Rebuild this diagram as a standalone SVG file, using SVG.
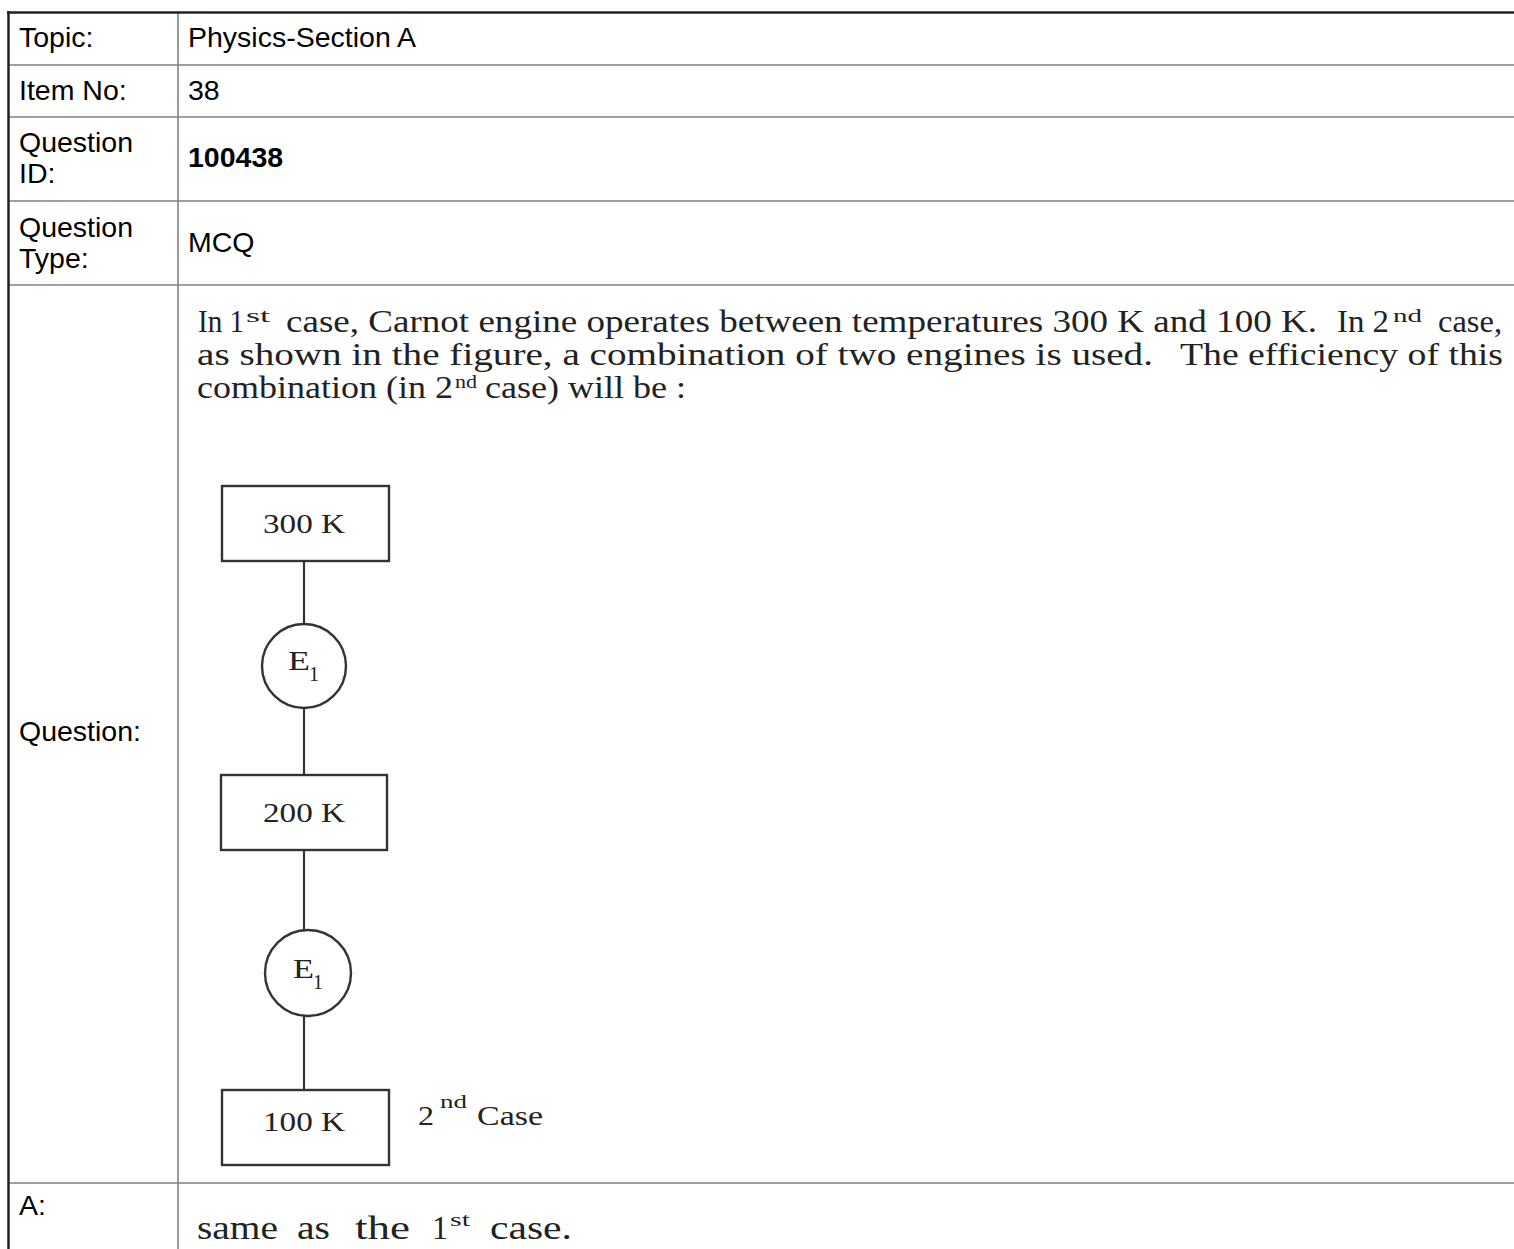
<svg xmlns="http://www.w3.org/2000/svg" width="1514" height="1249" viewBox="0 0 1514 1249">
<style>
.lbl{font-family:"Liberation Sans",Arial,sans-serif;font-size:28.5px;fill:#000}
.b{font-weight:bold}
.sr{font-family:"Liberation Serif","Times New Roman",serif;font-size:31px;fill:#222}
.ans{font-family:"Liberation Serif","Times New Roman",serif;font-size:34px;fill:#222}
.sup{font-family:"Liberation Serif","Times New Roman",serif;font-size:19px;fill:#222}
.dg{font-family:"Liberation Serif","Times New Roman",serif;font-size:28px;fill:#222}
.sub{font-family:"Liberation Serif","Times New Roman",serif;font-size:22px;fill:#222}
.outer{stroke:#222;stroke-width:2.5;fill:none}
.inner{stroke:#808080;stroke-width:1.6;fill:none}
.box{fill:#fff;stroke:#333;stroke-width:2.4}
.wire{stroke:#333;stroke-width:2.2;fill:none}
</style>
<rect width="1514" height="1249" fill="#fff"/>
<g id="table">
<line class="inner" x1="178" y1="12" x2="178" y2="1249"/>
<line class="inner" x1="8" y1="65" x2="1514" y2="65"/>
<line class="inner" x1="8" y1="117" x2="1514" y2="117"/>
<line class="inner" x1="8" y1="201" x2="1514" y2="201"/>
<line class="inner" x1="8" y1="285" x2="1514" y2="285"/>
<line class="inner" x1="8" y1="1183" x2="1514" y2="1183"/>
<line class="outer" x1="8.5" y1="11" x2="8.5" y2="1249"/>
<line class="outer" x1="7" y1="12.5" x2="1514" y2="12.5"/>
<text class="lbl" x="19" y="47">Topic:</text>
<text class="lbl" x="188" y="47">Physics-Section A</text>
<text class="lbl" x="19" y="100">Item No:</text>
<text class="lbl" x="188" y="100">38</text>
<text class="lbl" x="19" y="152">Question</text>
<text class="lbl" x="19" y="183">ID:</text>
<text class="lbl b" x="188" y="167">100438</text>
<text class="lbl" x="19" y="237">Question</text>
<text class="lbl" x="19" y="268">Type:</text>
<text class="lbl" x="188" y="252">MCQ</text>
<text class="lbl" x="19" y="741">Question:</text>
<text class="lbl" x="19" y="1215">A:</text>
</g>
<g id="question-text">
<text class="sr" x="198" y="332" textLength="46" lengthAdjust="spacingAndGlyphs">In 1</text>
<text class="sup" x="246" y="322" textLength="24" lengthAdjust="spacingAndGlyphs">st</text>
<text class="sr" x="286" y="332" textLength="1031" lengthAdjust="spacingAndGlyphs">case, Carnot engine operates between temperatures 300 K and 100 K.</text>
<text class="sr" x="1337" y="332" textLength="52" lengthAdjust="spacingAndGlyphs">In 2</text>
<text class="sup" x="1393" y="322" textLength="29" lengthAdjust="spacingAndGlyphs">nd</text>
<text class="sr" x="1438" y="332" textLength="64" lengthAdjust="spacingAndGlyphs">case,</text>
<text class="sr" x="197" y="365" textLength="956" lengthAdjust="spacingAndGlyphs">as shown in the figure, a combination of two engines is used.</text>
<text class="sr" x="1180" y="365" textLength="323" lengthAdjust="spacingAndGlyphs">The efficiency of this</text>
<text class="sr" x="197" y="398" textLength="256" lengthAdjust="spacingAndGlyphs">combination (in 2</text>
<text class="sup" x="455" y="388" textLength="22" lengthAdjust="spacingAndGlyphs">nd</text>
<text class="sr" x="485" y="398" textLength="201" lengthAdjust="spacingAndGlyphs">case) will be :</text>
</g>
<g id="connectors">
<line class="wire" x1="304" y1="561" x2="304" y2="624"/>
<line class="wire" x1="304" y1="708" x2="304" y2="775"/>
<line class="wire" x1="304" y1="850" x2="304" y2="930"/>
<line class="wire" x1="304" y1="1016" x2="304" y2="1090"/>
</g>
<g id="node-300K">
<rect class="box" x="222" y="486" width="167" height="75"/>
<text class="dg" x="263" y="533" textLength="82" lengthAdjust="spacingAndGlyphs">300 K</text>
</g>
<g id="node-E1-top">
<circle class="box" cx="304" cy="666" r="42"/>
<text class="dg" x="288" y="670" textLength="22" lengthAdjust="spacingAndGlyphs">E</text>
<text class="sub" x="309" y="681" textLength="10" lengthAdjust="spacingAndGlyphs">1</text>
</g>
<g id="node-200K">
<rect class="box" x="221" y="775" width="166" height="75"/>
<text class="dg" x="263" y="822" textLength="82" lengthAdjust="spacingAndGlyphs">200 K</text>
</g>
<g id="node-E1-bottom">
<circle class="box" cx="308" cy="973" r="43"/>
<text class="dg" x="293" y="978" textLength="21" lengthAdjust="spacingAndGlyphs">E</text>
<text class="sub" x="313" y="989" textLength="10" lengthAdjust="spacingAndGlyphs">1</text>
</g>
<g id="node-100K">
<rect class="box" x="222" y="1090" width="167" height="75"/>
<text class="dg" x="263" y="1131" textLength="82" lengthAdjust="spacingAndGlyphs">100 K</text>
</g>
<g id="case-label">
<text class="dg" x="418" y="1125" textLength="16" lengthAdjust="spacingAndGlyphs">2</text>
<text class="sup" x="440" y="1108" textLength="27" lengthAdjust="spacingAndGlyphs">nd</text>
<text class="dg" x="477" y="1125" textLength="66" lengthAdjust="spacingAndGlyphs">Case</text>
</g>
<g id="answer">
<text class="ans" x="197" y="1239" textLength="81" lengthAdjust="spacingAndGlyphs">same</text>
<text class="ans" x="297" y="1239" textLength="33" lengthAdjust="spacingAndGlyphs">as</text>
<text class="ans" x="355" y="1239" textLength="55" lengthAdjust="spacingAndGlyphs">the</text>
<text class="ans" x="432" y="1239" textLength="16" lengthAdjust="spacingAndGlyphs">1</text>
<text class="sup" x="450" y="1226" textLength="20" lengthAdjust="spacingAndGlyphs">st</text>
<text class="ans" x="490" y="1239" textLength="82" lengthAdjust="spacingAndGlyphs">case.</text>
</g>
</svg>
